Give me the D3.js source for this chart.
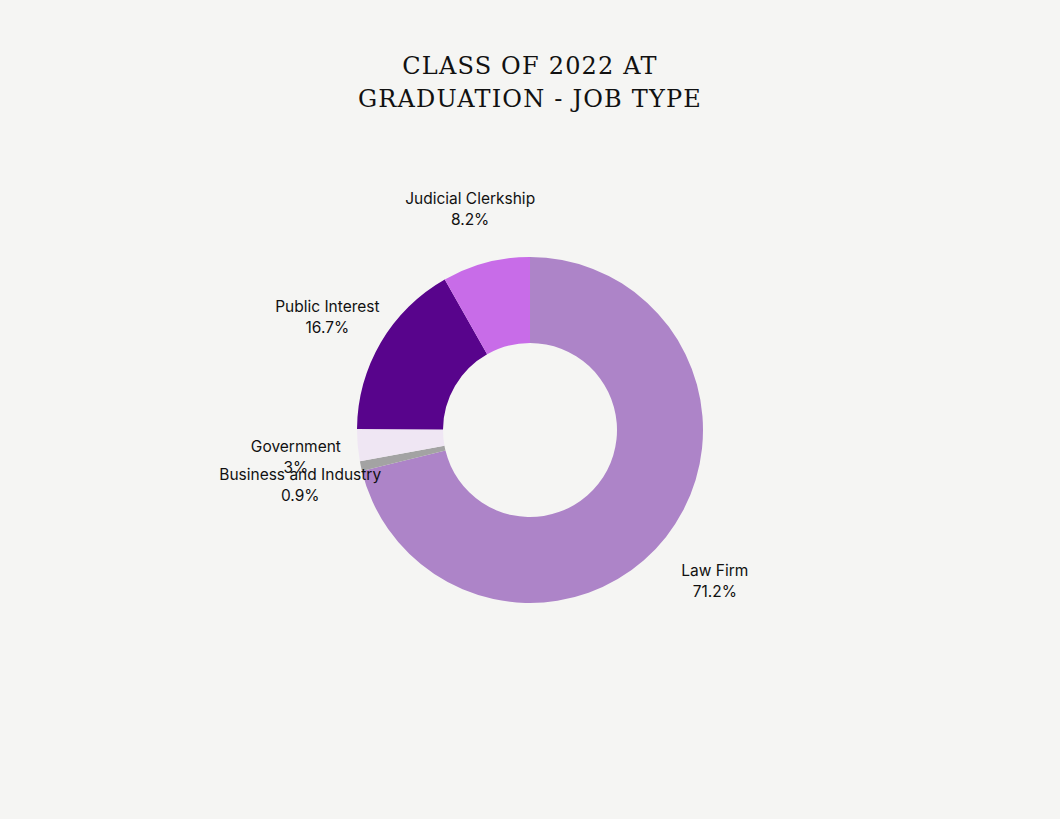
<!DOCTYPE html>
<html><head><meta charset="utf-8">
<script src="https://cdn.jsdelivr.net/npm/d3@7"></script>
<style>body{margin:0;background:#f5f5f3}</style>
</head><body>
<script>
const width = 1060, height = 819
const categories = ['Law Firm', 'Business and Industry', 'Government', 'Public Interest', 'Judicial Clerkship']
const values = [71.2, 0.9, 3, 16.7, 8.2]
const valueLabels = ['71.2%', '0.9%', '3%', '16.7%', '8.2%']
const colors = ['#ad84c8', '#a3a3a3', '#efe6f3', '#58048c', '#c86ce8']
const titleLines = ['CLASS OF 2022 AT', 'GRADUATION - JOB TYPE']

const svg = d3.select('body').append('svg').attr('width', width).attr('height', height)
svg.append('rect').attr('width', width).attr('height', height).attr('fill', '#f5f5f3')

svg.append('text').attr('text-anchor', 'middle')
  .attr('font-family', 'DejaVu Serif, serif').attr('font-size', 24).attr('letter-spacing', 1.2)
  .attr('fill', '#111')
  .selectAll('tspan').data(titleLines).enter().append('tspan')
  .attr('x', 530).attr('y', (d, i) => 74 + i * 33).text(d => d)

const cx = 530, cy = 430
const pie = d3.pie().sort(null).value(d => d)
const arcs = pie(values)
const arc = d3.arc().innerRadius(87).outerRadius(173)

const g = svg.append('g').attr('transform', `translate(${cx},${cy})`)
g.selectAll('path').data(arcs).enter().append('path')
  .attr('d', arc).attr('fill', (d, i) => colors[i])

// label positions: around the ring, pushed apart when they collide
const labelR = 235
const pos = arcs.map(d => {
  const a = (d.startAngle + d.endAngle) / 2
  return { x: labelR * Math.sin(a), y: -labelR * Math.cos(a) }
})
for (let i = 0; i < pos.length; i++) {
  for (let j = 0; j < pos.length; j++) {
    if (i === j) continue
    const p = pos[i], q = pos[j]
    if (p.y >= q.y && p.y - q.y < 38 && Math.abs(p.x - q.x) < 150 && i < j === false) {
      p.y = q.y + 38
      p.x -= 40
    }
  }
}

const lab = g.selectAll('g.lab').data(arcs).enter().append('g').attr('class', 'lab')
  .attr('transform', (d, i) => `translate(${pos[i].x},${pos[i].y})`)
lab.append('text').attr('text-anchor', 'middle')
  .attr('font-family', 'Inter, sans-serif').attr('font-size', 15.5).attr('fill', '#111')
  .selectAll('tspan').data((d, i) => [categories[i], valueLabels[i]]).enter().append('tspan')
  .attr('x', 0).attr('y', (d, i) => 1 + i * 21).text(d => d)
</script>
</body></html>
